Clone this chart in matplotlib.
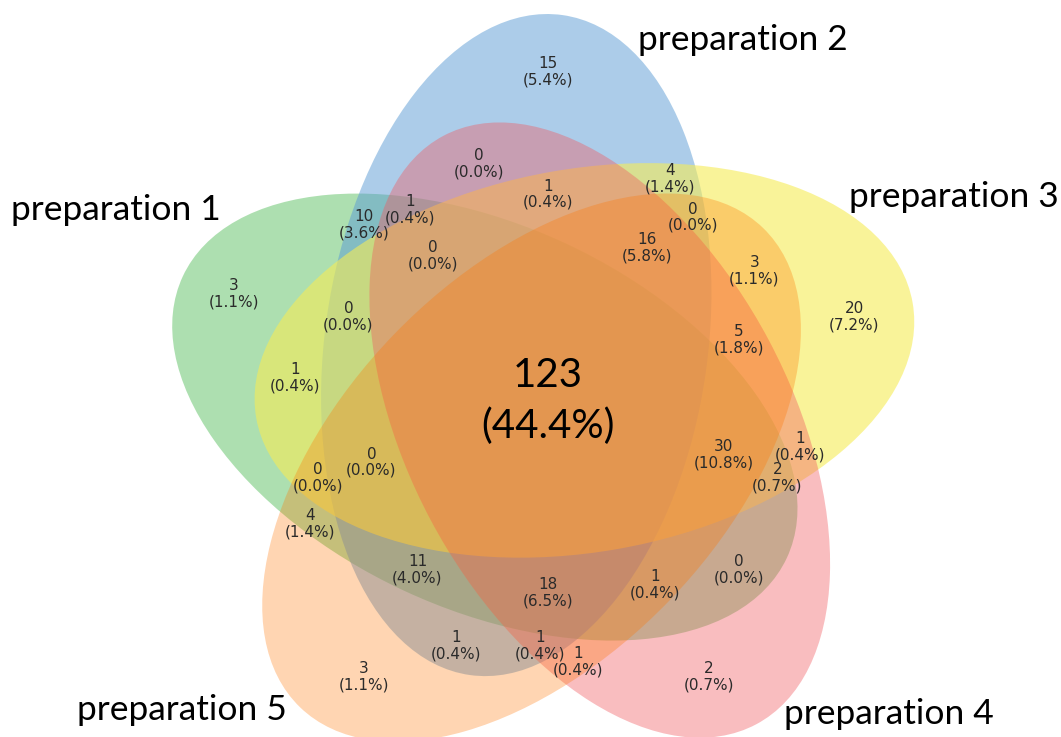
import matplotlib
matplotlib.use("Agg")
import matplotlib.pyplot as plt
from matplotlib import patches

# Set names and region counts (bit string: prep1..prep5 membership)
set_names = ["preparation 1", "preparation 2", "preparation 3",
             "preparation 4", "preparation 5"]

region_keys = ["00001", "00010", "00011", "00100", "00101", "00110", "00111",
               "01000", "01001", "01010", "01011", "01100", "01101", "01110",
               "01111", "10000", "10001", "10010", "10011", "10100", "10101",
               "10110", "10111", "11000", "11001", "11010", "11011", "11100",
               "11101", "11110", "11111"]
region_counts = [3, 2, 1, 20, 3, 1, 5,
                 15, 1, 0, 1, 4, 0, 1,
                 16, 3, 4, 0, 1, 1, 0,
                 2, 30, 10, 11, 1, 18, 0,
                 0, 0, 123]

# Ellipse geometry: centre x, centre y, width, height, angle
ellipses = [
    (0.428, 0.449, 0.87, 0.50, 155.0),
    (0.469, 0.543, 0.87, 0.50, 82.0),
    (0.558, 0.523, 0.87, 0.50, 10.0),
    (0.578, 0.432, 0.87, 0.50, 118.0),
    (0.489, 0.383, 0.87, 0.50, 46.0),
]
colors = [
    (92 / 255, 192 / 255, 98 / 255, 0.5),
    (90 / 255, 155 / 255, 212 / 255, 0.5),
    (246 / 255, 236 / 255, 86 / 255, 0.6),
    (241 / 255, 90 / 255, 96 / 255, 0.4),
    (255 / 255, 117 / 255, 0 / 255, 0.3),
]

# Label anchor points per region
label_pos = {
    "00001": (0.27, 0.11), "00010": (0.72, 0.11), "00011": (0.55, 0.13),
    "00100": (0.91, 0.58), "00101": (0.78, 0.64), "00110": (0.84, 0.41),
    "00111": (0.76, 0.55), "01000": (0.51, 0.90), "01001": (0.39, 0.15),
    "01010": (0.42, 0.78), "01011": (0.50, 0.15), "01100": (0.67, 0.76),
    "01101": (0.70, 0.71), "01110": (0.51, 0.74), "01111": (0.64, 0.67),
    "10000": (0.10, 0.61), "10001": (0.20, 0.31), "10010": (0.76, 0.25),
    "10011": (0.65, 0.23), "10100": (0.18, 0.50), "10101": (0.21, 0.37),
    "10110": (0.81, 0.37), "10111": (0.74, 0.40), "11000": (0.27, 0.70),
    "11001": (0.34, 0.25), "11010": (0.33, 0.72), "11011": (0.51, 0.22),
    "11100": (0.25, 0.58), "11101": (0.28, 0.39), "11110": (0.36, 0.66),
    "11111": (0.51, 0.47),
}
name_pos = [(-0.19, 0.719), (0.628, 0.941), (0.904, 0.736),
            (0.819, 0.061), (-0.105, 0.067)]

fig = plt.figure(figsize=(10.61, 7.37), dpi=100)
ax = fig.add_axes([156 / 1061, (737 - 761) / 737, 768 / 1061, 766 / 737])
ax.set_xlim(0, 1)
ax.set_ylim(0, 1)
ax.set_aspect("equal")
ax.set_axis_off()

for (cx, cy, w, h, a), c in zip(ellipses, colors):
    ax.add_patch(patches.Ellipse((cx, cy), w, h, angle=a, color=c, lw=0))

total = sum(region_counts)
for key, n in zip(region_keys, region_counts):
    x, y = label_pos[key]
    txt = f"{n}\n({100 * n / total:.1f}%)"
    if key == "11111":
        ax.text(x, y, txt, ha="center", va="center", fontsize=29,
                family="Lato", color="black", linespacing=1.45)
    else:
        ax.text(x, y, txt, ha="center", va="center", fontsize=11,
                family="DejaVu Sans", color="#2a2a2a", linespacing=1.1)

for name, (x, y) in zip(set_names, name_pos):
    ax.text(x, y, name, ha="left", va="center", fontsize=25.5,
            family="Lato", color="black", clip_on=False)

fig.savefig("out.png", dpi=100)
